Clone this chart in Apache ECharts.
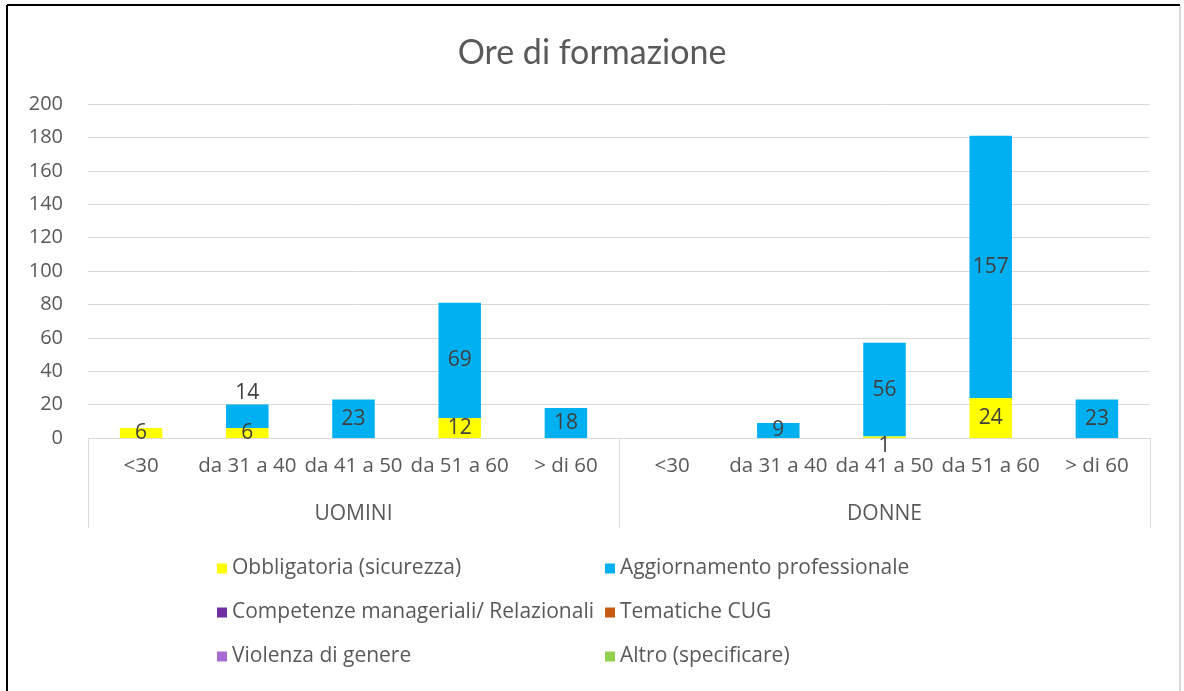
<!DOCTYPE html>
<html>
<head>
<meta charset="utf-8">
<script src="https://cdn.jsdelivr.net/npm/echarts@6/dist/echarts.min.js"></script>
<style>
html, body { margin: 0; padding: 0; background: #fff; }
#chart { width: 1184px; height: 691px; }
</style>
</head>
<body>
<div id="chart"></div>
<script>
var ageGroups = ['<30', 'da 31 a 40', 'da 41 a 50', 'da 51 a 60', '> di 60'];
var genders = ['UOMINI', 'DONNE'];
var yTicks = [0, 200, 20];

var seriesNames = [
	'Obbligatoria (sicurezza)',
	'Aggiornamento professionale',
	'Competenze manageriali/ Relazionali',
	'Tematiche CUG',
	'Violenza di genere',
	'Altro (specificare)'
];
var seriesColors = ['#ffff00', '#00b0f0', '#7030a0', '#c55a11', '#a66bd3', '#92d050'];

// UOMINI (5 fasce) poi DONNE (5 fasce)
var obbligatoria = [6, 6, 0, 12, 0, 0, 0, 1, 24, 0];
var aggiornamento = [0, 14, 23, 69, 18, 0, 9, 56, 157, 23];
var competenze = [0, 0, 0, 0, 0, 0, 0, 0, 0, 0];
var tematiche = [0, 0, 0, 0, 0, 0, 0, 0, 0, 0];
var violenza = [0, 0, 0, 0, 0, 0, 0, 0, 0, 0];
var altro = [0, 0, 0, 0, 0, 0, 0, 0, 0, 0];

var allValues = [obbligatoria, aggiornamento, competenze, tematiche, violenza, altro];

var categories = [];
genders.forEach(function(g) {
	ageGroups.forEach(function(a) { categories.push(a); });
});

var font = '"Open Sans", sans-serif';
var gray = '#595959';

var chart = echarts.init(document.getElementById('chart'));

var series = seriesNames.map(function(name, i) {
	var data = allValues[i].map(function(v, j) {
		var item = { value: v };
		// etichette spostate come nel grafico originale
		if (i === 1 && j === 1) item.label = { position: 'top', distance: 1 };
		if (i === 0 && j === 7) item.label = { position: 'bottom', distance: -2 };
		return item;
	});
	return {
		name: name,
		type: 'bar',
		stack: 'ore',
		barWidth: '40%',
		color: seriesColors[i],
		label: {
			show: true,
			position: 'inside',
			color: '#404040',
			fontSize: 21,
			fontFamily: font,
			formatter: function(p) { return p.value > 0 ? p.value : ''; }
		},
		data: data
	};
});

var legendCommon = {
	orient: 'vertical',
	itemWidth: 10,
	itemHeight: 10,
	itemGap: 23,
	icon: 'rect',
	textStyle: { color: gray, fontSize: 21, fontFamily: font }
};

chart.setOption({
	animation: false,
	title: {
		text: 'Ore di formazione',
		left: 'center',
		top: 31,
		textStyle: { color: gray, fontSize: 34, fontWeight: 'normal', fontFamily: 'Lato, sans-serif' }
	},
	legend: [
		Object.assign({ left: 212, top: 553, data: [seriesNames[0], seriesNames[2], seriesNames[4]] }, legendCommon),
		Object.assign({ left: 600, top: 553, data: [seriesNames[1], seriesNames[3], seriesNames[5]] }, legendCommon)
	],
	grid: { left: 88, right: 34, top: 104, bottom: 253 },
	xAxis: [{
		type: 'category',
		data: categories,
		axisLine: { lineStyle: { color: '#d9d9d9' } },
		axisTick: { show: false },
		axisLabel: { color: gray, fontSize: 20.5, fontFamily: font, margin: 18, interval: 0 }
	}, {
		type: 'category',
		position: 'bottom',
		data: genders,
		axisLine: { show: false },
		axisTick: { show: true, length: 90, lineStyle: { color: '#d9d9d9' } },
		axisLabel: { color: gray, fontSize: 21, fontFamily: font, margin: 66 }
	}],
	yAxis: {
		type: 'value',
		min: yTicks[0],
		max: yTicks[1],
		interval: yTicks[2],
		axisLine: { show: false },
		axisTick: { show: false },
		splitLine: { lineStyle: { color: '#d9d9d9' } },
		axisLabel: { color: gray, fontSize: 20, fontFamily: font, margin: 25 }
	},
	graphic: [
		{ type: 'line', shape: { x1: 7, y1: 5, x2: 1180, y2: 5 }, style: { stroke: '#000', lineWidth: 2 } },
		{ type: 'line', shape: { x1: 7, y1: 5, x2: 7, y2: 691 }, style: { stroke: '#000', lineWidth: 2 } },
		{ type: 'line', shape: { x1: 1180, y1: 6, x2: 1180, y2: 691 }, style: { stroke: '#d9d9d9', lineWidth: 2 } }
	],
	series: series
});
</script>
</body>
</html>
